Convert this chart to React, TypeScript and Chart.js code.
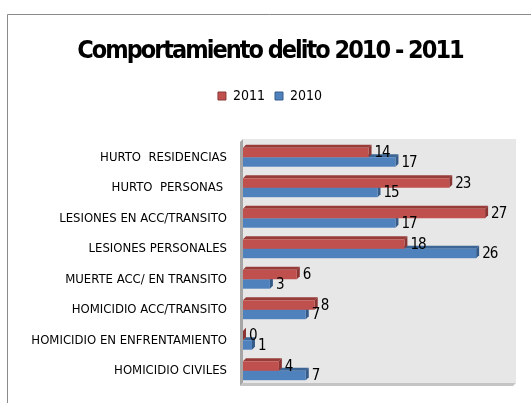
import React, { useEffect, useRef } from "react";
import { Chart, registerables } from "chart.js";

Chart.register(...registerables);

const categories = [
  "HURTO  RESIDENCIAS",
  "HURTO  PERSONAS ",
  "LESIONES EN ACC/TRANSITO",
  "LESIONES PERSONALES",
  "MUERTE ACC/ EN TRANSITO",
  "HOMICIDIO ACC/TRANSITO",
  "HOMICIDIO EN ENFRENTAMIENTO",
  "HOMICIDIO CIVILES",
];
const values2011 = [14, 23, 27, 18, 6, 8, 0, 4];
const values2010 = [17, 15, 17, 26, 3, 7, 1, 7];
const seriesNames = ["2011", "2010"];
const titleText = "Comportamiento delito 2010 - 2011";
const axisMin = 0;
const axisMax = 30;

const FONT = "'DejaVu Sans Condensed', 'Liberation Sans Narrow', sans-serif";
const RED = { front: "#c0504d", top: "#973c39", side: "#8a3533", border: "#8c3836" };
const BLUE = { front: "#4f81bd", top: "#3a6595", side: "#345a88", border: "#385d8a" };
const DEPTH = 3;

function poly(ctx: CanvasRenderingContext2D, pts: number[][], fill: string) {
  ctx.beginPath();
  ctx.moveTo(pts[0][0], pts[0][1]);
  for (let i = 1; i < pts.length; i++) ctx.lineTo(pts[i][0], pts[i][1]);
  ctx.closePath();
  ctx.fillStyle = fill;
  ctx.fill();
}

const bars3d = {
  id: "bars3d",
  afterLayout(chart: any) {
    const tb = chart.titleBlock;
    if (tb && !tb.__tight) {
      const orig = tb.draw.bind(tb);
      tb.draw = (area: any) => {
        const ctx = chart.ctx as any;
        ctx.letterSpacing = "-2px";
        orig(area);
        ctx.letterSpacing = "0px";
      };
      tb.__tight = true;
    }
  },
  beforeDraw(chart: any) {
    const { ctx, width, height } = chart;
    ctx.save();
    ctx.fillStyle = "#ffffff";
    ctx.fillRect(0, 0, width, height);
    ctx.strokeStyle = "#8a8a8a";
    ctx.lineWidth = 1;
    ctx.beginPath();
    ctx.moveTo(7.5, height);
    ctx.lineTo(7.5, 14.5);
    ctx.lineTo(width, 14.5);
    ctx.stroke();
    ctx.restore();
  },
  beforeDatasetsDraw(chart: any) {
    const { ctx, chartArea: a } = chart;
    const top = a.top - 3;
    const bottom = a.bottom - 3;
    const left = a.left;
    const right = a.right + 4;
    ctx.save();
    ctx.fillStyle = "#e7e7e7";
    ctx.fillRect(left, top, right - left, bottom - top);
    poly(ctx, [[left - 3, top + 3], [left, top], [left, bottom], [left - 3, bottom + 3]], "#a6a6a6");
    poly(ctx, [[left - 3, bottom + 3], [left, bottom], [right, bottom], [right - 3, bottom + 3]], "#c4c4c4");
    ctx.restore();
  },
  beforeDatasetDraw(chart: any, args: any) {
    const { ctx } = chart;
    const meta = args.meta;
    const c = meta.index === 0 ? RED : BLUE;
    ctx.save();
    meta.data.forEach((el: any) => {
      const { x, y, base, height } = el.getProps(["x", "y", "base", "height"], true);
      const l = base;
      const r = x;
      const t = y - height / 2;
      const b = y + height / 2;
      const d = DEPTH;
      poly(ctx, [[l, t], [r, t], [r + d, t - d], [l + d, t - d]], c.top);
      poly(ctx, [[r, t], [r + d, t - d], [r + d, b - d], [r, b]], c.side);
      if (r > l) {
        ctx.fillStyle = c.front;
        ctx.fillRect(l, t, r - l, b - t);
      }
    });
    ctx.restore();
    return false;
  },
  afterDatasetsDraw(chart: any) {
    const { ctx } = chart;
    ctx.save();
    (ctx as any).letterSpacing = "-1px";
    ctx.font = `15px ${FONT}`;
    ctx.fillStyle = "#000000";
    ctx.textAlign = "left";
    ctx.textBaseline = "middle";
    chart.data.datasets.forEach((ds: any, di: number) => {
      const meta = chart.getDatasetMeta(di);
      meta.data.forEach((el: any, i: number) => {
        const { x, y } = el.getProps(["x", "y"], true);
        ctx.fillText(String(ds.data[i]), x + DEPTH + 3, y + 1);
      });
    });
    ctx.restore();
  },
};

export default function App() {
  const ref = useRef<HTMLCanvasElement | null>(null);
  useEffect(() => {
    document.body.style.margin = "0";
    const canvas = ref.current;
    if (!canvas) return;
    const chart = new Chart(canvas, {
      type: "bar",
      data: {
        labels: categories,
        datasets: [
          {
            label: seriesNames[0],
            data: values2011,
            backgroundColor: RED.front,
            borderColor: RED.border,
            borderWidth: 1,
            categoryPercentage: 0.62,
            barPercentage: 1,
          },
          {
            label: seriesNames[1],
            data: values2010,
            backgroundColor: BLUE.front,
            borderColor: BLUE.border,
            borderWidth: 1,
            categoryPercentage: 0.62,
            barPercentage: 1,
          },
        ],
      },
      options: {
        indexAxis: "y",
        responsive: false,
        animation: false,
        layout: { padding: { left: 28, right: 19, top: 0, bottom: 17 } },
        plugins: {
          title: {
            display: true,
            text: titleText,
            color: "#000000",
            font: { family: FONT, size: 25, weight: "bold" },
            padding: { top: 36, bottom: 13 },
          },
          legend: {
            display: true,
            position: "top",
            labels: {
              color: "#000000",
              font: { family: FONT, size: 14 },
              boxWidth: 8,
              boxHeight: 8,
              padding: 10,
            },
          },
          tooltip: { enabled: false },
        },
        scales: {
          x: {
            position: "top",
            min: axisMin,
            max: axisMax,
            grid: { display: false, drawTicks: false },
            border: { display: false },
            ticks: { display: false },
            afterFit(s: any) {
              s.height = 29;
            },
          },
          y: {
            grid: { display: false, drawTicks: false },
            border: { display: false },
            ticks: { color: "#000000", font: { family: FONT, size: 13 }, padding: 16 },
            afterFit(s: any) {
              s.width = 215;
              s.paddingTop = 0;
              s.paddingBottom = 0;
            },
          },
        },
      },
      plugins: [bars3d],
    } as any);
    return () => chart.destroy();
  }, []);
  return (
    <div style={{ width: 531, height: 403 }}>
      <canvas ref={ref} width={531} height={403} />
    </div>
  );
}
